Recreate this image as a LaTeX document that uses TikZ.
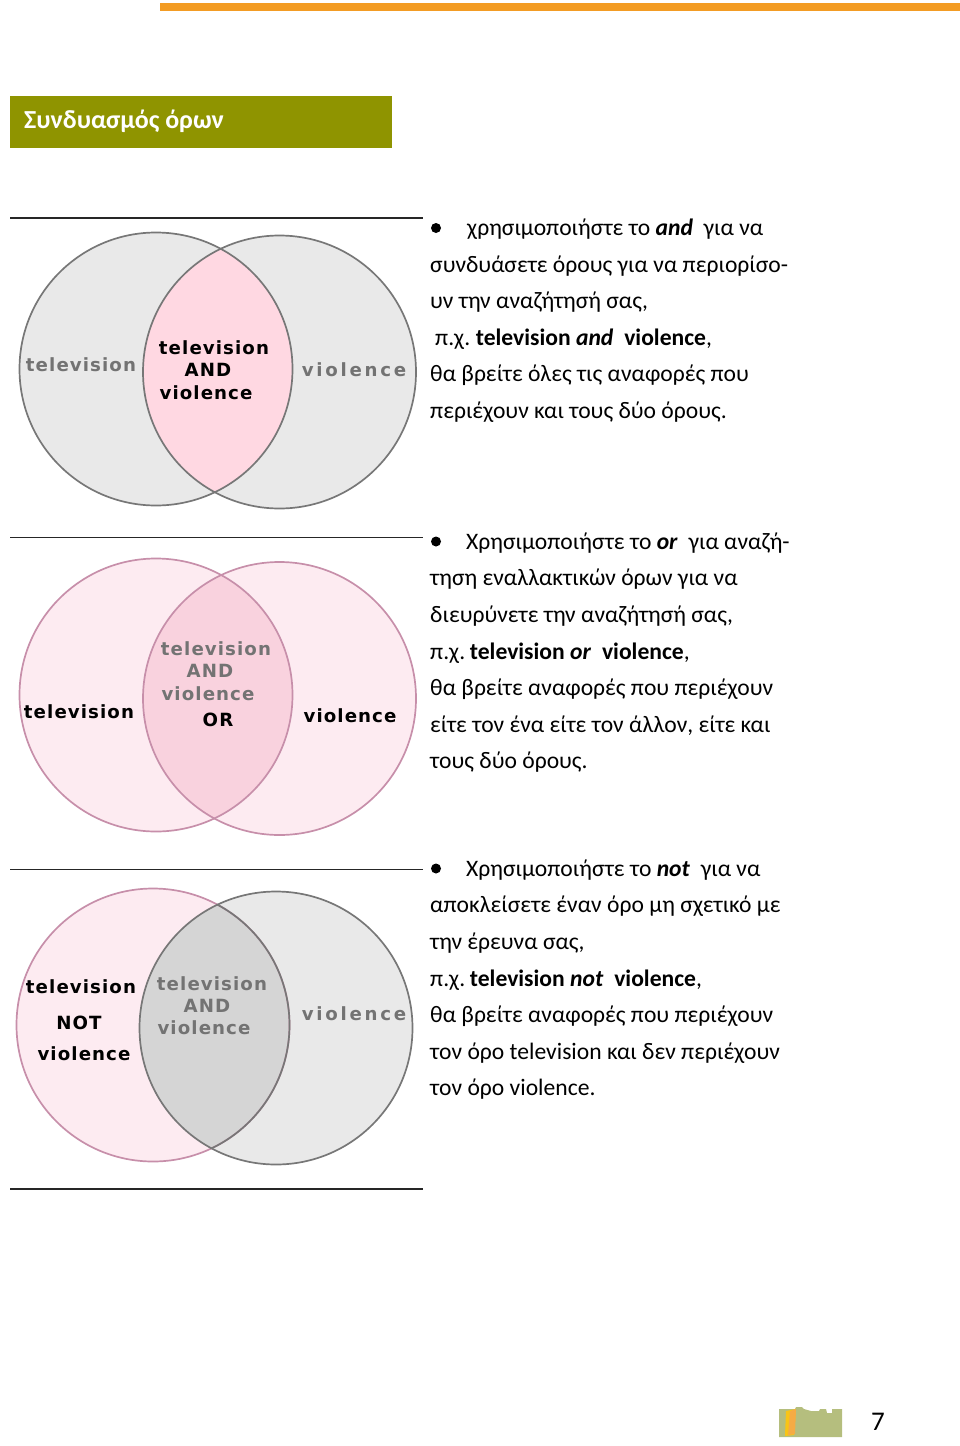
\documentclass[tikz,border=0pt]{standalone}
\usepackage{fontspec}
\setmainfont{Carlito}
\newfontfamily\pixfont[LetterSpace=6]{DejaVu Sans}
\newfontfamily\pixwide[LetterSpace=15]{DejaVu Sans}
\definecolor{barorange}{HTML}{F39C24}
\definecolor{titleolive}{HTML}{8F9400}
\definecolor{logoolive}{HTML}{B5BE7E}
\definecolor{vgrey}{HTML}{E9E9E9}
\definecolor{vpink}{HTML}{FFD8E2}
\definecolor{vpale}{HTML}{FDEBF1}
\definecolor{vrose}{HTML}{F9D2DE}
\definecolor{vdark}{HTML}{D5D5D5}
\definecolor{edgegrey}{HTML}{777777}
\definecolor{edgepink}{HTML}{C78FAA}
\definecolor{inktext}{HTML}{737373}
\tikzset{
    rulefix/.style={line width=1.4pt, black!85},
    para/.style={anchor=base west, inner sep=0pt, font=\fontsize{23.6}{28}\selectfont},
    bulletdot/.style={circle, fill=black, inner sep=0pt, minimum size=10pt},
    term/.style={inner sep=0pt, font=\pixfont\bfseries\fontsize{18.2}{22}\selectfont},
    termwide/.style={inner sep=0pt, font=\pixwide\bfseries\fontsize{18.2}{22}\selectfont},
    faded/.style={text=inktext},
    ringline/.style={line width=1.7pt},
}
\begin{document}
\begin{tikzpicture}[x=1pt, y=-1pt]
    \useasboundingbox (0,0) rectangle (960,1446);
    \fill[barorange] (160,3) rectangle (960,11);
    \fill[titleolive] (9.5,96) rectangle (392,148);
    \node[anchor=base west, inner sep=0pt, text=white, font=\bfseries\fontsize{26}{30}\selectfont] (title) at (24,128.5) {Συνδυασμός όρων};

    \coordinate (R1a) at (10,218);    \coordinate (R1b) at (423,218);
    \coordinate (R2a) at (10,537.5);  \coordinate (R2b) at (423,537.5);
    \coordinate (R3a) at (10,869.5);  \coordinate (R3b) at (423,869.5);
    \coordinate (R4a) at (10,1189);   \coordinate (R4b) at (423,1189);
    \draw[rulefix] (R1a) -- (R1b);
    \draw[rulefix] (R2a) -- (R2b);
    \draw[rulefix] (R3a) -- (R3b);
    \draw[rulefix] (R4a) -- (R4b);

    \coordinate (A1) at (156,369);    \coordinate (B1) at (279.5,372);
    \coordinate (A2) at (156,695);    \coordinate (B2) at (279.5,698.5);
    \coordinate (A3) at (153,1025);   \coordinate (B3) at (276,1028);

    \fill[vgrey] (A1) circle (136.5);
    \fill[vgrey] (B1) circle (136.5);
    \begin{scope}
        \clip (A1) circle (136.5);
        \fill[vpink] (B1) circle (136.5);
    \end{scope}
    \draw[edgegrey, ringline] (A1) circle (136.5);
    \draw[edgegrey, ringline] (B1) circle (136.5);

    \fill[vpale] (A2) circle (136.5);
    \fill[vpale] (B2) circle (136.5);
    \begin{scope}
        \clip (A2) circle (136.5);
        \fill[vrose] (B2) circle (136.5);
    \end{scope}
    \draw[edgepink, ringline] (A2) circle (136.5);
    \draw[edgepink, ringline] (B2) circle (136.5);

    \fill[vpale] (A3) circle (136.5);
    \fill[vgrey] (B3) circle (136.5);
    \begin{scope}
        \clip (A3) circle (136.5);
        \fill[vdark] (B3) circle (136.5);
    \end{scope}
    \draw[edgepink, ringline] (A3) circle (136.5);
    \draw[edgegrey, ringline] (B3) circle (136.5);
    \begin{scope}
        \clip (B3) circle (136.5);
        \draw[edgegrey, ringline] (A3) circle (136.5);
    \end{scope}

    \node[term, faded] (tvA) at (81,365) {television};
    \node[term] (tvAm) at (214,347.5) {television};
    \node[term] (andA) at (208,370) {AND};
    \node[term] (viAm) at (206,392.5) {violence};
    \node[termwide, faded] (viA) at (354,370) {violence};

    \node[term] (tvO) at (79,712) {television};
    \node[term, faded] (tvOm) at (216,648.5) {television};
    \node[term, faded] (andO) at (210,671) {AND};
    \node[term, faded] (viOm) at (208,693.5) {violence};
    \node[term] (orO) at (218,720) {OR};
    \node[term] (viO) at (350,715.5) {violence};

    \node[term] (tvN) at (81,987) {television};
    \node[term] (notN) at (79,1023) {NOT};
    \node[term] (viNl) at (84,1054) {violence};
    \node[term, faded] (tvNm) at (212,984) {television};
    \node[term, faded] (andN) at (207,1006) {AND};
    \node[term, faded] (viNm) at (204,1028) {violence};
    \node[termwide, faded] (viN) at (354,1014) {violence};

    \node[bulletdot] (dotA) at (436,228) {};
    \node[para] (a1) at (467,235.7) {χρησιμοποιήστε το \textbf{\textit{and}}\ \ για να};
    \node[para] (a2) at (430,272.3) {συνδυάσετε όρους για να περιορίσο-};
    \node[para] (a3) at (430,308.7) {υν την αναζήτησή σας,};
    \node[para] (a4) at (435,345.3) {π.χ.\hspace{.24em}\textbf{television \textit{and}\hspace{.46em}violence},};
    \node[para] (a5) at (430,381.7) {θα βρείτε όλες τις αναφορές που};
    \node[para] (a6) at (430,418.7) {περιέχουν και τους δύο όρους.};

    \node[bulletdot] (dotO) at (436,541.5) {};
    \node[para] (o1) at (466,549.5) {Χρησιμοποιήστε το \textbf{\textit{or}}\ \ για αναζή-};
    \node[para] (o2) at (430,585.7) {τηση εναλλακτικών όρων για να};
    \node[para] (o3) at (430,622.7) {διευρύνετε την αναζήτησή σας,};
    \node[para] (o4) at (430,659.3) {π.χ.\hspace{.2em}\textbf{television \textit{or}\hspace{.46em}violence},};
    \node[para] (o5) at (430,695.8) {θα βρείτε αναφορές που περιέχουν};
    \node[para] (o6) at (430,732.4) {είτε τον ένα είτε τον άλλον, είτε και};
    \node[para] (o7) at (430,768.5) {τους δύο όρους.};

    \node[bulletdot] (dotN) at (436,868.5) {};
    \node[para] (n1) at (466,876.2) {Χρησιμοποιήστε το \textbf{\textit{not}}\ \ για να};
    \node[para] (n2) at (430,912.8) {αποκλείσετε έναν όρο μη σχετικό με};
    \node[para] (n3) at (430,949.5) {την έρευνα σας,};
    \node[para] (n4) at (430,986) {π.χ.\hspace{.2em}\textbf{television \textit{not}\hspace{.46em}violence},};
    \node[para] (n5) at (430,1022.6) {θα βρείτε αναφορές που περιέχουν};
    \node[para] (n6) at (430,1059.2) {τον όρο television και δεν περιέχουν};
    \node[para] (n7) at (430,1095.7) {τον όρο violence.};

    \fill[logoolive] (779,1409) -- (795,1409) -- (796,1407) -- (802,1407) -- (804,1409) -- (811,1411)
        -- (819,1411) -- (820,1409) -- (826,1409) -- (827,1413) -- (832,1413) -- (832,1409) -- (842,1409)
        -- (842,1437) -- (779,1437) -- cycle;
    \fill[barorange!60!yellow] (786,1411) -- (796,1409) -- (794,1435) -- (785,1436) -- cycle;
    \fill[barorange!85] (790,1411) -- (796,1409) -- (795,1434) -- (788,1435) -- cycle;
    \node[inner sep=0pt, font=\fontsize{27}{30}\selectfont] (pagenum) at (878,1421.5) {7};
\end{tikzpicture}
\end{document}
